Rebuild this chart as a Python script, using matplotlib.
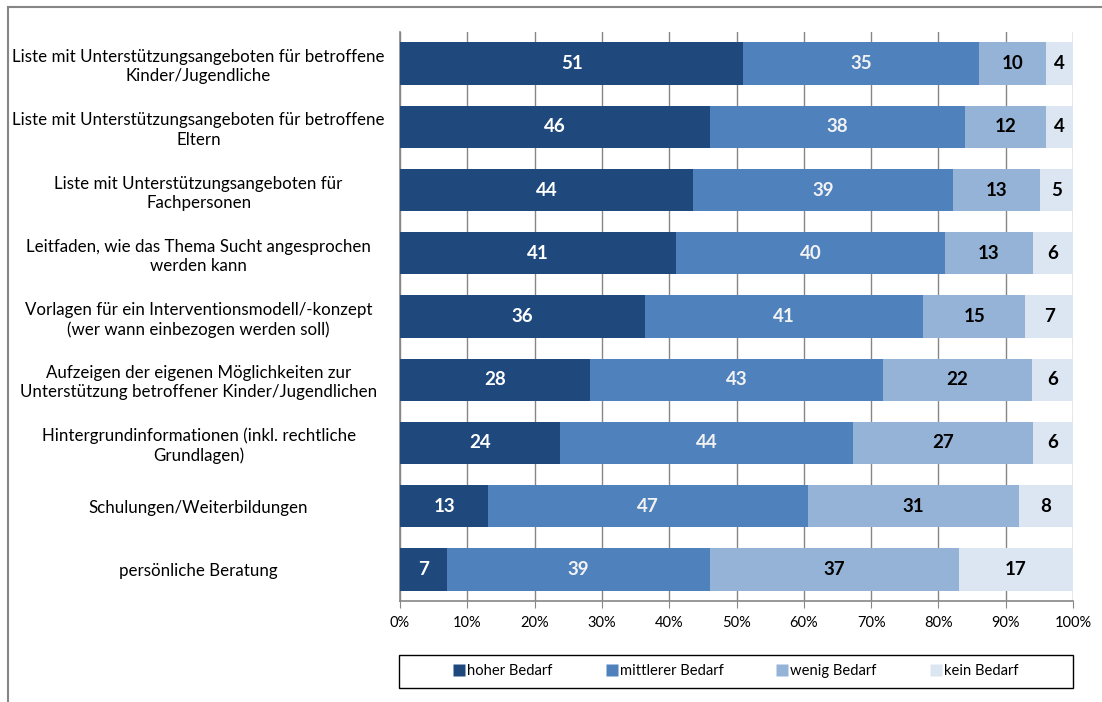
import matplotlib
matplotlib.use("Agg")
import matplotlib.pyplot as plt
import numpy as np
from matplotlib.lines import Line2D
from matplotlib.patches import Rectangle

plt.rcParams["font.family"] = ["Lato", "DejaVu Sans"]

categories = [
    "Liste mit Unterstützungsangeboten für betroffene\nKinder/Jugendliche",
    "Liste mit Unterstützungsangeboten für betroffene\nEltern",
    "Liste mit Unterstützungsangeboten für\nFachpersonen",
    "Leitfaden, wie das Thema Sucht angesprochen\nwerden kann",
    "Vorlagen für ein Interventionsmodell/-konzept\n(wer wann einbezogen werden soll)",
    "Aufzeigen der eigenen Möglichkeiten zur\nUnterstützung betroffener Kinder/Jugendlichen",
    "Hintergrundinformationen (inkl. rechtliche\nGrundlagen)",
    "Schulungen/Weiterbildungen",
    "persönliche Beratung",
]
series_names = ["hoher Bedarf", "mittlerer Bedarf", "wenig Bedarf", "kein Bedarf"]
hoher = [51, 46, 44, 41, 36, 28, 24, 13, 7]
mittlerer = [35, 38, 39, 40, 41, 43, 44, 47, 39]
wenig = [10, 12, 13, 13, 15, 22, 27, 31, 37]
kein = [4, 4, 5, 6, 7, 6, 6, 8, 17]

colors = ["#1F497D", "#4F81BD", "#95B3D7", "#DCE6F2"]
text_colors = ["white", "#F2F2F2", "black", "black"]

data = np.array([hoher, mittlerer, wenig, kein], dtype=float)
pct = data / data.sum(axis=0) * 100

fig = plt.figure(figsize=(11.02, 7.02), dpi=100)
ax = fig.add_axes([400 / 1102, 101 / 702, 673 / 1102, 569 / 702])

y = np.arange(len(categories))
left = np.zeros(len(categories))
handles = []
for i, name in enumerate(series_names):
    bars = ax.barh(y, pct[i], left=left, height=0.67, color=colors[i],
                   edgecolor="none", zorder=3, label=name)
    for j, b in enumerate(bars):
        ax.text(left[j] + pct[i][j] / 2, y[j], f"{int(data[i][j])}",
                ha="center", va="center", fontsize=13.5, fontweight="bold",
                color=text_colors[i], zorder=4)
    left += pct[i]
    handles.append(Line2D([], [], marker="s", linestyle="none", markersize=8,
                          markerfacecolor=colors[i], markeredgecolor="none"))

ax.set_xlim(0, 100)
ax.set_ylim(len(categories) - 0.5, -0.5)
ax.set_yticks(y)
ax.set_yticklabels(categories, fontsize=12.2, ha="center", multialignment="center",
                   linespacing=1.25)
ax.tick_params(axis="y", length=0, pad=145)
ax.set_xticks(np.arange(0, 101, 10))
ax.set_xticklabels([f"{v}%" for v in range(0, 101, 10)], fontsize=10.5)
ax.tick_params(axis="x", length=5, color="#868686", pad=6)
ax.grid(axis="x", color="#868686", linewidth=1, zorder=0)
for s in ["top", "right"]:
    ax.spines[s].set_visible(False)
for s in ["left", "bottom"]:
    ax.spines[s].set_color("#868686")
    ax.spines[s].set_linewidth(1.2)

# legend box drawn separately, entries centered inside
fig.add_artist(Rectangle((399 / 1102, 14 / 702), 674 / 1102, 33 / 702,
                         transform=fig.transFigure, fill=False,
                         edgecolor="black", linewidth=1))
leg = fig.legend(handles, series_names, loc="center", ncol=4,
                 bbox_to_anchor=(735 / 1102, 31 / 702),
                 frameon=False, fontsize=10.6, handletextpad=0.05,
                 handlelength=1, columnspacing=3.5)

fig.add_artist(Line2D([8 / 1102, 8 / 1102], [0, 695 / 702], color="#868686", linewidth=1.5))
fig.add_artist(Line2D([8 / 1102, 1], [695 / 702, 695 / 702], color="#868686", linewidth=1.5))

fig.savefig("out.png", dpi=100)
